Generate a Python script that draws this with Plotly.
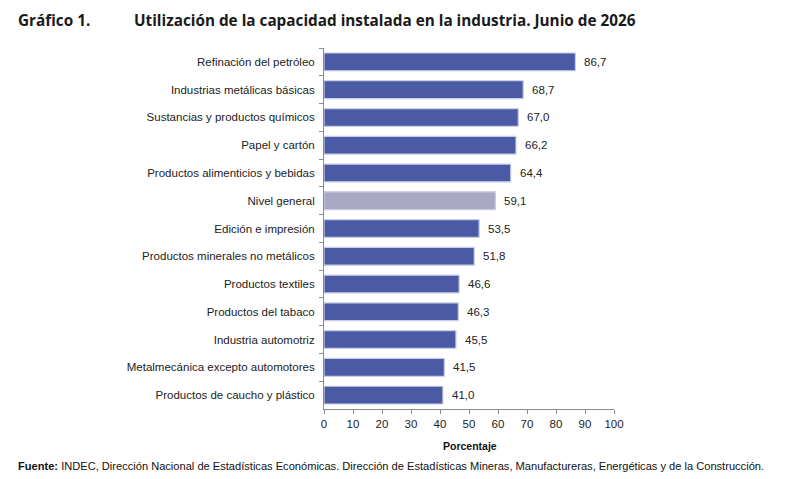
import plotly.graph_objects as go

categorias = [
    'Refinación del petróleo',
    'Industrias metálicas básicas',
    'Sustancias y productos químicos',
    'Papel y cartón',
    'Productos alimenticios y bebidas',
    'Nivel general',
    'Edición e impresión',
    'Productos minerales no metálicos',
    'Productos textiles',
    'Productos del tabaco',
    'Industria automotriz',
    'Metalmecánica excepto automotores',
    'Productos de caucho y plástico',
]
valores = [86.7, 68.7, 67.0, 66.2, 64.4, 59.1, 53.5, 51.8, 46.6, 46.3, 45.5, 41.5, 41.0]
ticks_x = [0, 10, 20, 30, 40, 50, 60, 70, 80, 90, 100]

# the page body adds an 8px margin, so the figure is drawn 8px smaller and
# every position below is given in page pixels minus that offset
OFF = 8
W, H = 790 - OFF, 479 - OFF
L, R, T, B = 324 - OFF, 176, 48 - OFF, 70

def px_x(px):
    return (px - OFF - L) / (W - L - R)

def px_y(py):
    return (H - B - (py - OFF)) / (H - T - B)

colores = ['#a9a9c5' if c == 'Nivel general' else '#4b5aa5' for c in categorias]

fig = go.Figure(go.Bar(
    x = valores,
    y = categorias,
    orientation = 'h',
    marker = dict(color = colores, line = dict(color = '#c9cde6', width = 1.2)),
    width = 0.64,
    hoverinfo = 'skip',
))

for c, v in zip(categorias, valores):
    fig.add_annotation(
        x = v, y = c, xref = 'x', yref = 'y',
        text = f'{v:.1f}'.replace('.', ','),
        showarrow = False, xanchor = 'left', xshift = 7,
        font = dict(size = 11.5, color = '#222222'),
    )

fig.update_yaxes(
    autorange = 'reversed',
    showline = True, linecolor = '#8c8c8c', linewidth = 1,
    ticks = 'outside', tickson = 'boundaries', ticklen = 4, tickcolor = '#8c8c8c',
    tickfont = dict(size = 11.5, color = '#222222'),
    ticklabelstandoff = 6,
)
fig.update_xaxes(
    range = [0, 100],
    tickvals = ticks_x,
    showline = True, linecolor = '#8c8c8c', linewidth = 1,
    ticks = 'outside', ticklen = 4, tickcolor = '#8c8c8c',
    tickfont = dict(size = 11.5, color = '#222222'),
    showgrid = False, zeroline = False,
)

fig.add_annotation(
    x = px_x(16), y = px_y(20), xref = 'paper', yref = 'paper',
    text = '<b>Gráfico 1.</b>', showarrow = False, xanchor = 'left', yanchor = 'middle',
    font = dict(family = 'Open Sans', size = 15.3, color = '#1a1a1a'),
)
fig.add_annotation(
    x = px_x(132), y = px_y(20), xref = 'paper', yref = 'paper',
    text = '<b>Utilización de la capacidad instalada en la industria. Junio de 2026</b>',
    showarrow = False, xanchor = 'left', yanchor = 'middle',
    font = dict(family = 'Open Sans', size = 15.3, color = '#1a1a1a'),
)
fig.add_annotation(
    x = px_x(470), y = px_y(446), xref = 'paper', yref = 'paper',
    text = '<b>Porcentaje</b>', showarrow = False, xanchor = 'center', yanchor = 'middle',
    font = dict(size = 10.5, color = '#111111'),
)
fig.add_annotation(
    x = px_x(16), y = px_y(466), xref = 'paper', yref = 'paper',
    text = '<b>Fuente:</b> INDEC, Dirección Nacional de Estadísticas Económicas. Dirección de Estadísticas Mineras, Manufactureras, Energéticas y de la Construcción.',
    showarrow = False, xanchor = 'left', yanchor = 'middle',
    font = dict(size = 11.1, color = '#111111'),
)

fig.update_layout(
    width = W, height = H,
    margin = dict(l = L, r = R, t = T, b = B),
    plot_bgcolor = 'white', paper_bgcolor = 'white',
    font = dict(family = 'Liberation Sans, Arial', size = 11.5, color = '#222222'),
    showlegend = False,
    bargap = 0.36,
)

fig.write_html('out.html')
